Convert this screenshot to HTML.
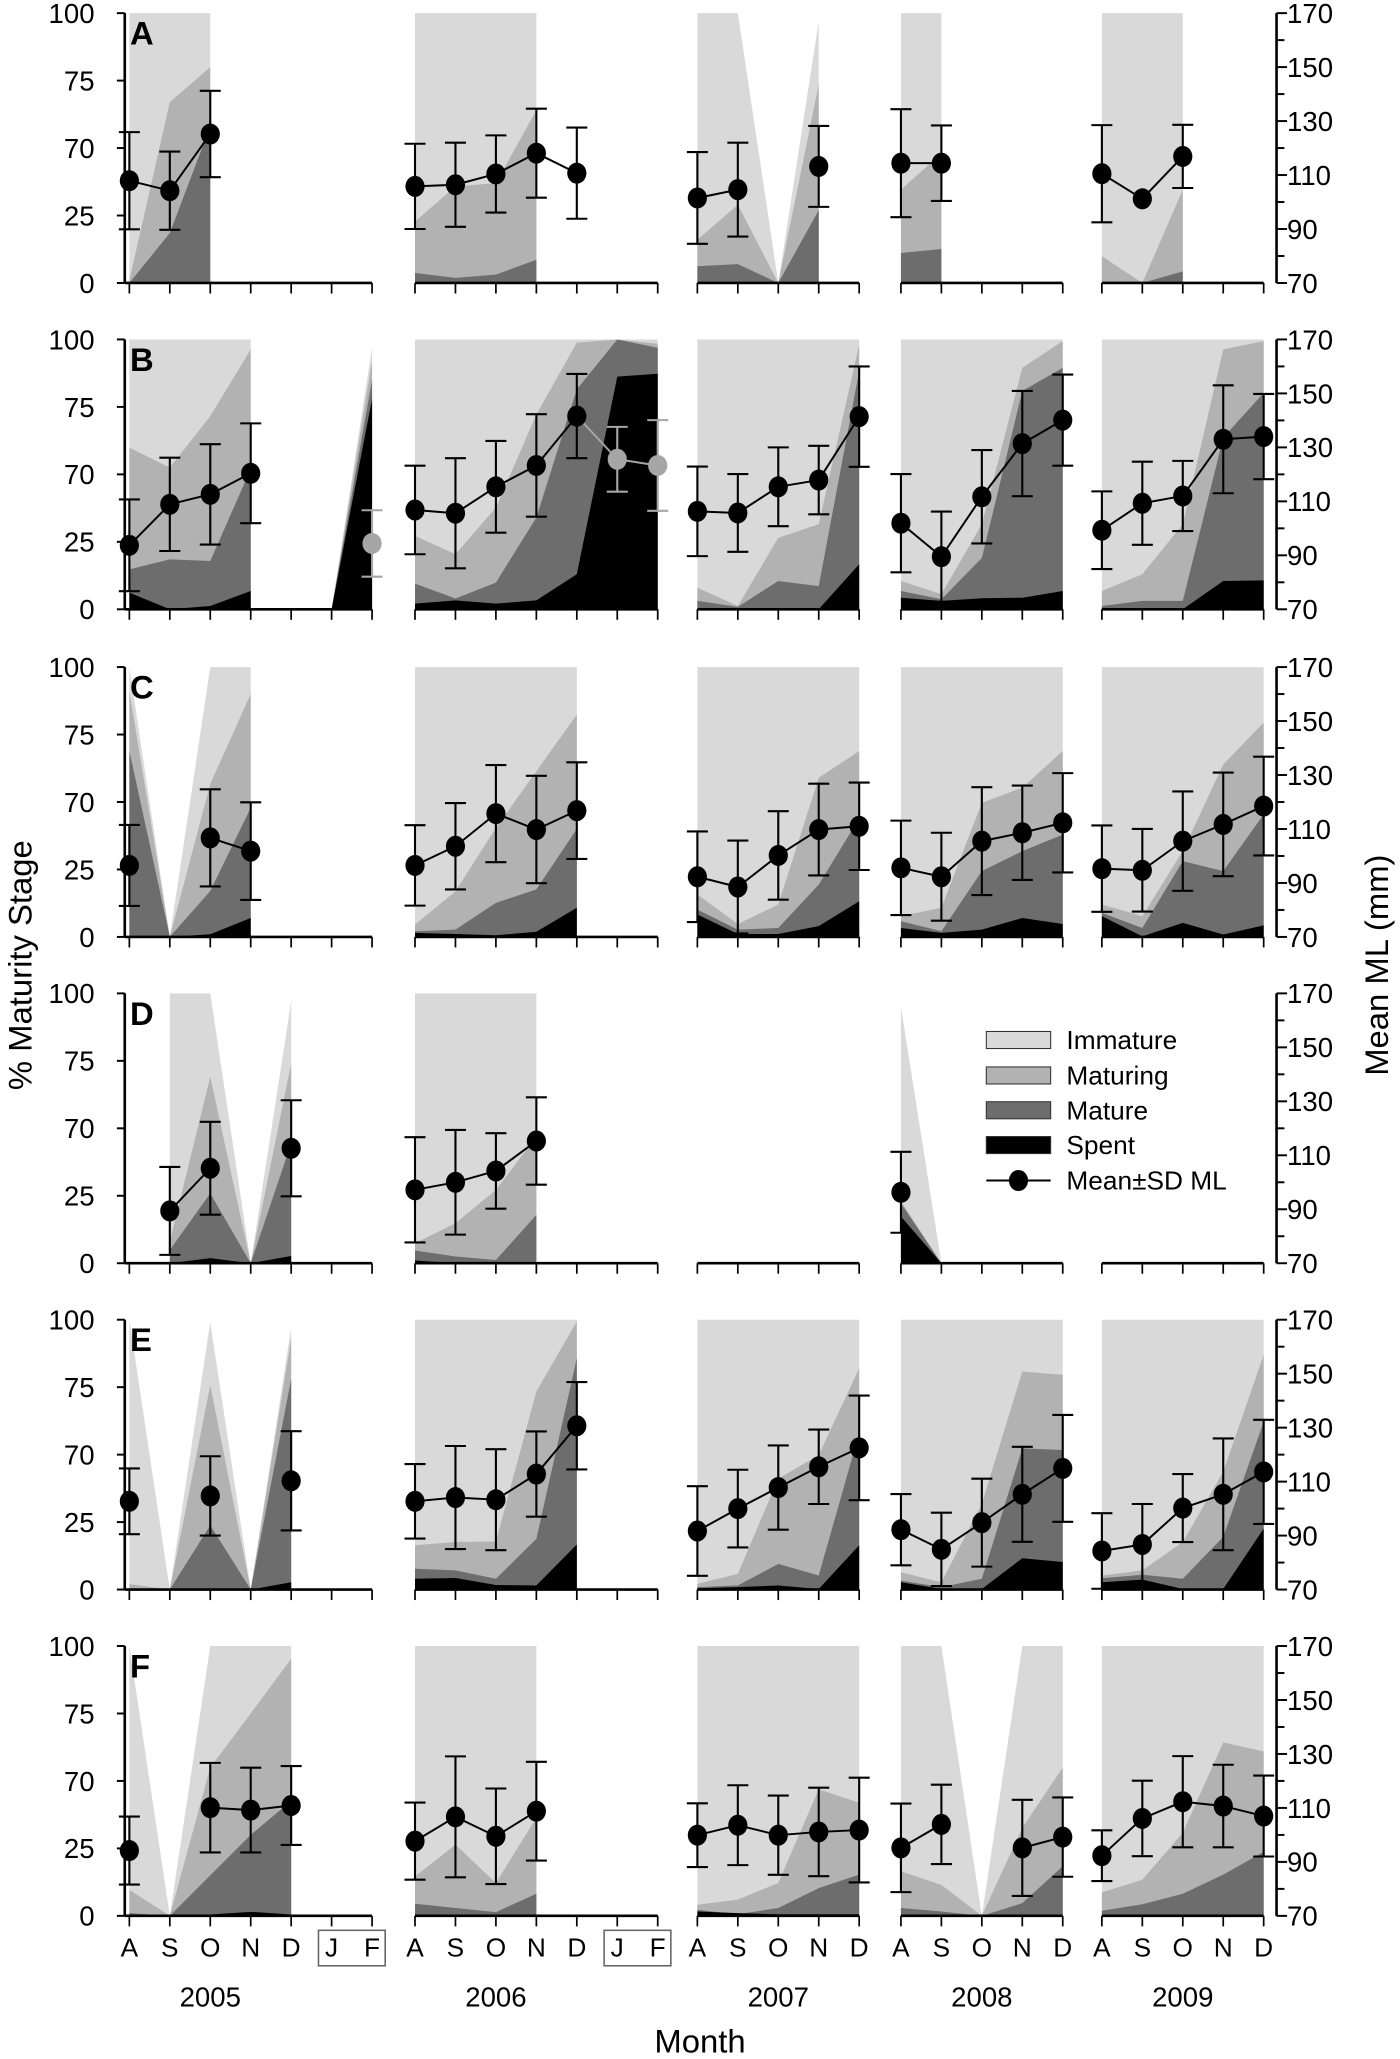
<!DOCTYPE html>
<html><head><meta charset="utf-8">
<style>
html,body{margin:0;padding:0;background:#fff;}
svg{display:block;}
text{font-family:"Liberation Sans",Arial,sans-serif;fill:#000;}
</style></head>
<body>
<svg id="chart" xmlns="http://www.w3.org/2000/svg" width="1400" height="2059" viewBox="0 0 1066 1568" preserveAspectRatio="none"></svg>
<script>
// ---------- DATA (cumulative % tops per month, per year block; null = no sample) ----------
const panels = ["A","B","C","D","E","F"];
const years = ["2005","2006","2007","2008","2009"];
const monthsLong = ["A","S","O","N","D","J","F"];
const monthsShort = ["A","S","O","N","D"];
const leftTickValues = [100,75,50,25,0];
const leftTickLabels = ["100","75","70","25","0"];
const rightTickLabels = ["170","150","130","110","90","70"];
const rightTickValues = [170,150,130,110,90,70];
const legendLabels = ["Immature","Maturing","Mature","Spent","Mean\u00b1SD ML"];

const N=null;
// Panel A
const totalA=[[100,100,100,N,N,N,N],[100,100,100,100,N,N,N],[100,100,0,97,N],[100,100,N,N,N],[100,100,100,N,N]];
const maturingA=[[1,67,80,N,N,N,N],[22.8,35.8,37,64,N,N,N],[16,29,0,73.5,N],[34.6,48,N,N,N],[9.9,0,34.6,N,N]];
const matureA=[[0,18.5,58,N,N,N,N],[3.7,1.9,3.1,8.6,N,N,N],[6.2,7,0,27,N],[11.1,12.6,N,N,N],[0,0,4.3,N,N]];
const spentA=[[0,0,0,N,N,N,N],[0,0,0,0,N,N,N],[0,0,0,0,N],[0,0,N,N,N],[0,0,0,N,N]];
const mlA=[[107.9,104.2,125.2,N,N,N,N],[105.8,106.4,110.4,118.1,110.7,N,N],[101.5,104.6,N,113.2,N],[114.4,114.4,N,N,N],[110.5,101.2,116.9,N,N]];
const sdA=[[18,14.5,16,N,N,N,N],[15.8,15.6,14.3,16.5,16.9,N,N],[17,17.4,N,15,N],[20,14,N,N,N],[18,0,11.7,N,N]];
const greyA=[[],[],[],[],[]];
// Panel B
const totalB=[[100,100,100,100,N,0,97],[100,100,100,100,100,100,100],[100,100,100,100,100],[100,100,100,100,100],[100,100,100,100,100]];
const maturingB=[[59.9,52.5,71.6,96.3,N,0,92],[27.2,20.4,37.7,72.2,98.8,100,98.4],[8,1.2,26.5,31.5,98.1],[10.5,5.6,31.5,89.5,99.4],[6.8,13,31.5,96.3,99.4]];
const matureB=[[14.8,18.5,17.9,52,N,0,85],[9.5,4,9.9,34,81.5,100,96.9],[3.1,0.9,10.5,8.6,88.3],[6.8,3.7,19,80.9,89.5],[1.2,3.1,3.1,63.6,80.2]];
const spentB=[[6.2,0,1.2,6.8,N,0,78],[2.1,3.3,2.1,3.3,13,86.2,87.3],[0,0,0,0,16.7],[4.3,3.1,4.1,4.3,6.8],[0,0,0,10.5,10.7]];
const mlB=[[93.7,108.9,112.6,120.4,N,N,94.4],[106.8,105.6,115.4,123.3,141.6,125.6,123.3],[106.3,105.7,115.4,117.9,141.4],[101.9,89.5,111.7,131.4,140.1],[99.3,109.3,112,133,134]];
const sdB=[[17,17.3,18.6,18.5,N,N,12.3],[16.4,20.4,17,19,15.6,12,16.8],[16.6,14.4,14.6,12.7,18.6],[18.2,16.7,17.3,19.5,16.9],[14.4,15.4,13,20,15.8]];
const greyB=[[6],[5,6],[],[],[]];
// Panel C
const totalC=[[100,0,100,100,N,N,N],[100,100,100,100,100,N,N],[100,100,100,100,100],[100,100,100,100,100],[100,100,100,100,100]];
const maturingC=[[91,0,56.7,90,N,N,N],[4.6,16.9,40.4,61.4,82.4,N,N],[15.7,4.8,12,59,68.9],[7.7,10.8,49.7,55.3,68.9],[12,7.7,31.8,63.9,79.4]];
const matureC=[[68.9,0,17,47.8,N,N,N],[2.1,2.7,12.6,17.6,40,N,N],[10.1,2.7,3.3,19.4,44],[5.8,2.1,24.4,31.8,37.9],[8.9,3.3,28.1,24.4,45.4]];
const spentC=[[0,0,1,7,N,N,N],[1.5,1.1,0.6,1.9,10.8,N,N],[8.3,1.1,1.1,4,13.2],[3.3,1.5,2.7,7,4.8],[7.7,0.2,5.2,0.9,4.3]];
const mlC=[[96.5,N,106.7,101.8,N,N,N],[96.5,103.6,115.7,109.8,116.8,N,N],[92.3,88.5,100.2,109.8,111],[95.6,92.3,105.5,108.6,112.3],[95.3,94.7,105.5,111.7,118.5]];
const sdC=[[15,N,18,18.1,N,N,N],[14.9,16,18,19.9,17.9,N,N],[16.8,17.2,16.4,17,16.2],[17.5,16.3,20,17.5,18.4],[16,15.3,18.4,19.2,18.3]];
const greyC=[[],[],[],[],[]];
// Panel D
const totalD=[[N,100,100,0,97,N,N],[100,100,100,100,N,N,N],[0,0,0,0,0],[95,0,0,0,0],[0,0,0,0,0]];
const maturingD=[[N,8,69.1,0,74,N,N],[7.4,14.8,27.2,46.9,N,N,N],[0,0,0,0,0],[23,0,0,0,0],[0,0,0,0,0]];
const matureD=[[N,4.9,25.9,0,44.4,N,N],[4.7,2.5,1.2,17.9,N,N,N],[0,0,0,0,0],[22.2,0,0,0,0],[0,0,0,0,0]];
const spentD=[[N,0,1.9,0,2.7,N,N],[1,0,0,0,N,N,N],[0,0,0,0,0],[17.3,0,0,0,0],[0,0,0,0,0]];
const mlD=[[N,89.4,105.2,N,112.6,N,N],[97.2,100,104.2,115.3,N,N,N],[N,N,N,N,N],[96.3,N,N,N,N],[N,N,N,N,N]];
const sdD=[[N,16.3,17.2,N,17.8,N,N],[19.5,19.4,14,16.2,N,N,N],[N,N,N,N,N],[15,N,N,N,N],[N,N,N,N,N]];
const greyD=[[],[],[],[],[]];
// Panel E
const totalE=[[100,0,99,0,97,N,N],[100,100,100,100,100,N,N],[100,100,100,100,100],[100,100,100,100,100],[100,100,100,100,100]];
const maturingE=[[2,0,75.8,0,93,N,N],[16.4,17.6,17.8,73.4,99.4,N,N],[2.1,5.8,41.1,49.8,82],[6.4,2.7,31.8,80.8,79.6],[5.2,7.1,17.6,43.6,87]];
const matureE=[[0,0,23.8,0,78,N,N],[7.7,7.1,4,18.8,85.7,N,N],[0.9,1.5,9.5,5.2,58],[3.3,0.9,4,52.3,51.7],[4.2,5.5,4,19.5,62.2]];
const spentE=[[0,0,0,0,2.7,N,N],[4,4.3,1.7,1.5,16.7,N,N],[0.5,0.9,1.5,0.2,16.4],[2.7,0.2,0.2,11.6,10.2],[2.7,3.7,0.2,0.2,22.6]];
const mlE=[[102.7,N,104.7,N,110.3,N,N],[102.7,104.1,103.3,112.8,130.7,N,N],[91.7,100,107.8,115.5,122.5],[92.2,84.9,94.8,105.3,114.9],[84.3,86.7,100.2,105.3,113.6]];
const sdE=[[12.2,N,14.7,N,18.4,N,N],[13.8,19.1,18.7,15.8,16.2,N,N],[16.6,14.4,15.6,13.8,19.4],[13.2,13.6,16.3,17.6,19.8],[14,15,12.6,20.7,19.3]];
const greyE=[[],[],[],[],[]];
// Panel F
const totalF=[[100,0,100,100,100,N,N],[100,100,100,100,N,N,N],[100,100,100,100,100],[100,100,0,100,100],[100,100,100,100,100]];
const maturingF=[[9.7,0,55,75,95.3,N,N],[14.6,26.4,12.2,36.4,N,N,N],[4.1,6,12.2,46.9,41.9],[16.5,11.5,0,32.6,55],[8.7,13.4,30.8,64.3,60.9]];
const matureF=[[1,0,15,30,42.6,N,N],[4.5,2.9,1.4,8.2,N,N,N],[2.2,0.6,2.9,10.3,15.3],[2.9,1.6,0,4.7,18.4],[1.9,4.3,8.2,15.3,23.7]];
const spentF=[[0,0,0.5,1.5,0.5,N,N],[0,0,0,0,N,N,N],[1.6,1,0.6,0.6,0.6],[0,0,0,0,0],[0,0,0,0,0]];
const mlF=[[94.2,N,110.1,109.2,110.9,N,N],[97.7,106.7,99.5,108.8,N,N,N],[99.9,103.6,99.9,101.1,101.8],[95.2,103.9,N,95.2,99.2],[92.3,106.1,112.3,110.7,107]];
const sdF=[[12.6,N,16.6,15.7,14.6,N,N],[14.3,22.4,17.7,18.3,N,N,N],[11.8,14.8,14.7,16.4,19.4],[16.4,14.7,N,17.8,14.7],[9.4,14,16.9,15.3,15]];
const greyF=[[],[],[],[],[]];

const panelData={
 A:{total:totalA,maturing:maturingA,mature:matureA,spent:spentA,ml:mlA,sd:sdA,grey:greyA},
 B:{total:totalB,maturing:maturingB,mature:matureB,spent:spentB,ml:mlB,sd:sdB,grey:greyB},
 C:{total:totalC,maturing:maturingC,mature:matureC,spent:spentC,ml:mlC,sd:sdC,grey:greyC},
 D:{total:totalD,maturing:maturingD,mature:matureD,spent:spentD,ml:mlD,sd:sdD,grey:greyD},
 E:{total:totalE,maturing:maturingE,mature:matureE,spent:spentE,ml:mlE,sd:sdE,grey:greyE},
 F:{total:totalF,maturing:maturingF,mature:matureF,spent:spentF,ml:mlF,sd:sdF,grey:greyF}
};

// ---------- LAYOUT ----------
const NS="http://www.w3.org/2000/svg";
const svg=document.getElementById('chart');
const panelTop=[10,258.5,508,756.5,1005,1253.5];
const PH=205.5;
const leftAxisX=95, rightAxisX=972;
const blockStart=[98.5,316,531,686,839];
const blockLen=[7,7,5,5,5];
const slotW=30.8;
const colors={total:"#d9d9d9",maturing:"#b2b2b2",mature:"#6d6d6d",spent:"#000000"};
function xAt(b,i){return blockStart[b]+i*slotW;}
function yPct(p,v){return panelTop[p]+PH-(v/100)*PH;}
function yML(p,v){return yPct(p,v-70);}
function el(tag,attrs,parent){const e=document.createElementNS(NS,tag);for(const k in attrs)e.setAttribute(k,attrs[k]);(parent||svg).appendChild(e);return e;}
function txt(s,attrs,parent){const t=el('text',attrs,parent);t.textContent=s;return t;}

panels.forEach((name,p)=>{
  const d=panelData[name];
  const g=el('g',{});
  
  
  const base=yPct(p,0);
  // areas
  ["total","maturing","mature","spent"].forEach(layer=>{
    for(let b=0;b<5;b++){
      const arr=d[layer][b];
      let run=[];
      const flush=()=>{
        if(run.length>=2){
          let pts=run.map(i=>xAt(b,i)+","+yPct(p,arr[i]));
          pts.push(xAt(b,run[run.length-1])+","+base);
          pts.push(xAt(b,run[0])+","+base);
          const poly=el('polygon',{points:pts.join(" "),fill:colors[layer]},g);
          
          
        }
        run=[];
      };
      for(let i=0;i<blockLen[b];i++){ if(arr[i]===null)flush(); else run.push(i);}
      flush();
    }
  });
  // baselines & ticks
  for(let b=0;b<5;b++){
    const x0=b===0?leftAxisX:xAt(b,0), x1=xAt(b,blockLen[b]-1);
    const bl=el('line',{x1:x0,y1:base,x2:x1,y2:base,stroke:"#000","stroke-width":2},g);
    
    
    for(let i=0;i<blockLen[b];i++){
      el('line',{x1:xAt(b,i),y1:base,x2:xAt(b,i),y2:base+8,stroke:"#000","stroke-width":1.3},g);
    }
  }
  // left axis
  const la=el('line',{x1:leftAxisX,y1:panelTop[p],x2:leftAxisX,y2:base,stroke:"#000","stroke-width":2},g);
  
  
  leftTickValues.forEach((v,k)=>{
    const y=yPct(p,v);
    el('line',{x1:leftAxisX-6,y1:y,x2:leftAxisX,y2:y,stroke:"#000","stroke-width":1.5},g);
    const t=txt(leftTickLabels[k],{x:72,y:y+7.5,"font-size":21,"text-anchor":"end"},g);
    
    
  });
  // right axis
  const ra=el('line',{x1:rightAxisX,y1:panelTop[p],x2:rightAxisX,y2:base,stroke:"#000","stroke-width":2},g);
  
  
  for(let v=70;v<=170;v+=10){
    const y=yML(p,v);
    el('line',{x1:rightAxisX,y1:y,x2:rightAxisX+((v%20===10)?8:6),y2:y,stroke:"#000","stroke-width":1.5},g);
  }
  rightTickValues.forEach((v,k)=>{
    const t=txt(rightTickLabels[k],{x:980,y:yML(p,v)+7.5,"font-size":21},g);
    
    
  });
  // panel letter
  const pl=txt(name,{x:99,y:panelTop[p]+24,"font-size":25,"font-weight":"bold"},g);
  
  
  // ML series
  for(let b=0;b<5;b++){
    const ml=d.ml[b], sd=d.sd[b], grey=d.grey[b];
    // connecting lines
    for(let i=1;i<blockLen[b];i++){
      if(ml[i]!==null&&ml[i-1]!==null){
        const gr=grey.includes(i);
        const ln=el('line',{x1:xAt(b,i-1),y1:yML(p,ml[i-1]),x2:xAt(b,i),y2:yML(p,ml[i]),stroke:gr?"#a6a6a6":"#000","stroke-width":1.5},g);
        
        
      }
    }
    for(let i=0;i<blockLen[b];i++){
      if(ml[i]===null)continue;
      const gr=grey.includes(i), c=gr?"#a6a6a6":"#000";
      const x=xAt(b,i);
      if(sd[i]){
        const yt=yML(p,ml[i]+sd[i]), yb=yML(p,ml[i]-sd[i]);
        const eb=el('path',{d:`M${x},${yt}V${yb}M${x-8},${yt}H${x+8}M${x-8},${yb}H${x+8}`,stroke:c,"stroke-width":1.6,fill:"none"},g);
        
        
      }
      const m=el('ellipse',{cx:x,cy:yML(p,ml[i]),rx:7.3,ry:8,fill:c},g);
      
      
    }
  }
});

// month labels
for(let b=0;b<5;b++){
  const labs=blockLen[b]===7?monthsLong:monthsShort;
  labs.forEach((m,i)=>{
    const t=txt(m,{x:xAt(b,i),y:1490,"font-size":20,"text-anchor":"middle"});
    
    
  });
  const y=txt(years[b],{x:(xAt(b,0)+xAt(b,4))/2,y:1528,"font-size":21,"text-anchor":"middle"});
  
  
}
[0,1].forEach(b=>{
  const bx=el('rect',{x:xAt(b,5)-10,y:1470,width:slotW+20,height:27,fill:"none",stroke:"#666","stroke-width":1.2});
  
  
});

// axis titles
const xt=txt("Month",{x:533,y:1563,"font-size":25,"text-anchor":"middle"});


const yt=txt("% Maturity Stage",{x:0,y:0,"font-size":25,"text-anchor":"middle",transform:"translate(24,735) rotate(-90)"});


const yr=txt("Mean ML (mm)",{x:0,y:0,"font-size":25,"text-anchor":"middle",transform:"translate(1057,735) rotate(-90)"});



// legend
const lg=el('g',{});


const legColors=[colors.total,colors.maturing,colors.mature,colors.spent];
const legY=[792,819,845.5,872,899];
legendLabels.forEach((l,k)=>{
  const y=legY[k];
  if(k<4){
    const r=el('rect',{x:751,y:y-6.5,width:49,height:13,fill:legColors[k],stroke:"#333","stroke-width":0.8},lg);
    
    
  } else {
    el('line',{x1:751,y1:y,x2:800,y2:y,stroke:"#000","stroke-width":1.5},lg);
    el('ellipse',{cx:775.5,cy:y,rx:7.3,ry:8,fill:"#000"},lg);
  }
  const t=txt(l,{x:812,y:y+7,"font-size":20},lg);
  
  
});
</script>
</body></html>
